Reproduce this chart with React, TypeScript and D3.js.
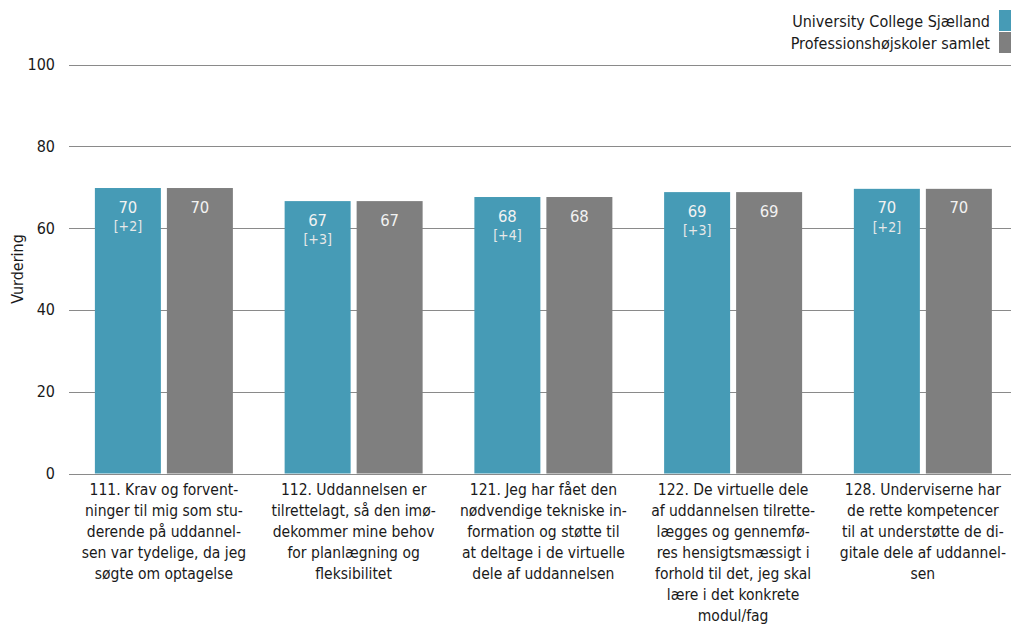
import * as d3 from "d3"

const categories = ["111", "112", "121", "122", "128"]

const categoryLines = [
  ["111. Krav og forvent-", "ninger til mig som stu-", "derende på uddannel-", "sen var tydelige, da jeg", "søgte om optagelse"],
  ["112. Uddannelsen er", "tilrettelagt, så den imø-", "dekommer mine behov", "for planlægning og", "fleksibilitet"],
  ["121. Jeg har fået den", "nødvendige tekniske in-", "formation og støtte til", "at deltage i de virtuelle", "dele af uddannelsen"],
  ["122. De virtuelle dele", "af uddannelsen tilrette-", "lægges og gennemfø-", "res hensigtsmæssigt i", "forhold til det, jeg skal", "lære i det konkrete", "modul/fag"],
  ["128. Underviserne har", "de rette kompetencer", "til at understøtte de di-", "gitale dele af uddannel-", "sen"],
]

const seriesNames = ["University College Sjælland", "Professionshøjskoler samlet"]
const ucsValues = [69.8, 66.6, 67.6, 68.8, 69.6]
const allValues = [69.8, 66.6, 67.6, 68.8, 69.6]
const diffLabels = ["[+2]", "[+3]", "[+4]", "[+3]", "[+2]"]
const yTicks = [0, 20, 40, 60, 80, 100]

const COLORS = ["#469bb6", "#7f7f7f"]
const FONT = "'DejaVu Sans Condensed', 'DejaVu Sans', sans-serif"
const W = 1011
const H = 626
const MARGIN = { left: 69, top: 64.5, bottom: 473.5 }

export default function App() {
  const x0 = d3
    .scaleBand<string>()
    .domain(categories)
    .range([MARGIN.left, MARGIN.left + 5 * 189.75])
    .paddingInner(0.2727)
    .paddingOuter(0.1364)

  const x1 = d3
    .scaleBand<number>()
    .domain([0, 1])
    .range([0, x0.bandwidth()])
    .paddingInner(0.0833)

  const y = d3.scaleLinear().domain([0, 100]).range([MARGIN.bottom, MARGIN.top])

  const series = [ucsValues, allValues]

  return (
    <svg
      width={W}
      height={H}
      style={{ position: "absolute", left: 0, top: 0, fontFamily: FONT }}
    >
      <rect width={W} height={H} fill="#fff" />

      {/* legend */}
      {seriesNames.map((name, i) => (
        <g key={name}>
          <rect x={999} y={10 + i * 22} width={14} height={21} fill={COLORS[i]} />
          <text
            x={990}
            y={21 + i * 22}
            textAnchor="end"
            dominantBaseline="central"
            fontSize={16}
            fill="#1a1a1a"
          >
            {name}
          </text>
        </g>
      ))}

      {/* grid + y ticks */}
      {yTicks.map((t) => (
        <g key={t}>
          <line
            x1={MARGIN.left}
            x2={W}
            y1={Math.round(y(t)) + 0.5}
            y2={Math.round(y(t)) + 0.5}
            stroke="#8a8a8a"
            strokeWidth={1}
          />
          <text
            x={55}
            y={y(t)}
            textAnchor="end"
            dominantBaseline="central"
            fontSize={16}
            fill="#1a1a1a"
          >
            {t}
          </text>
        </g>
      ))}

      <text
        transform={`translate(17,${(MARGIN.top + MARGIN.bottom) / 2}) rotate(-90)`}
        textAnchor="middle"
        dominantBaseline="central"
        fontSize={16}
        fill="#1a1a1a"
      >
        Vurdering
      </text>

      {/* bars */}
      {categories.map((c, ci) => (
        <g key={c} transform={`translate(${x0(c)},0)`}>
          {series.map((vals, si) => {
            const v = vals[ci]
            const bx = x1(si)!
            const top = y(v)
            return (
              <g key={si}>
                <rect
                  x={bx}
                  y={top}
                  width={x1.bandwidth()}
                  height={y(0) - top}
                  fill={COLORS[si]}
                />
                <text
                  x={bx + x1.bandwidth() / 2}
                  y={top + 19}
                  textAnchor="middle"
                  dominantBaseline="central"
                  fontSize={16.5}
                  fill="#f2f2f2"
                >
                  {Math.round(v)}
                </text>
                {si === 0 && (
                  <text
                    x={bx + x1.bandwidth() / 2}
                    y={top + 38}
                    textAnchor="middle"
                    dominantBaseline="central"
                    fontSize={14}
                    fill="#e8e8e8"
                  >
                    {diffLabels[ci]}
                  </text>
                )}
              </g>
            )
          })}
          {categoryLines[ci].map((line, li) => (
            <text
              key={li}
              x={x0.bandwidth() / 2}
              y={490 + li * 21}
              textAnchor="middle"
              dominantBaseline="central"
              fontSize={15.5}
              fill="#1a1a1a"
            >
              {line}
            </text>
          ))}
        </g>
      ))}
    </svg>
  )
}
